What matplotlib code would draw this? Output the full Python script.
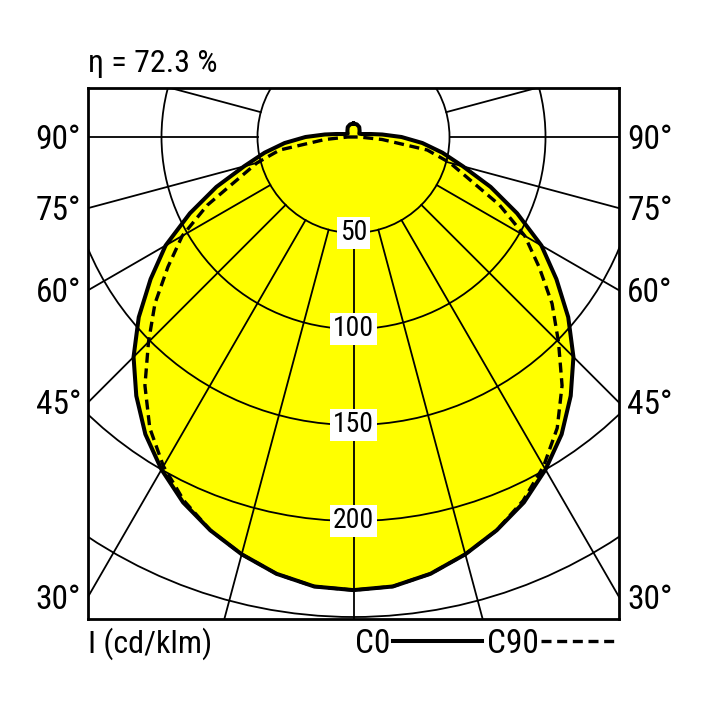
import numpy as np
import matplotlib
matplotlib.use("Agg")
import matplotlib.pyplot as plt
from matplotlib import font_manager
from matplotlib.patches import Circle
from matplotlib.lines import Line2D

# luminous intensity (cd/klm) vs angle from nadir
angles = [0, 5, 10, 15, 20, 25, 30, 35, 40, 45, 50, 55, 60, 65, 70, 75, 80, 85,
          90, 95, 100, 105, 110, 120, 135, 150, 165, 180]
c0 = [236, 235, 231, 225, 218, 210, 200, 189, 176, 162, 146, 129, 113, 94,
      76, 59, 47, 36, 25, 15, 9, 6, 4.5, 3.5, 4.5, 6, 6.8, 7]
c90 = [236, 235, 231, 225, 218, 209, 198, 185, 169, 151, 135, 118, 103, 84,
       64, 52, 39, 15, 3, 0, 0, 0, 0, 0, 0, 0, 0, 0]

rings = [50, 100, 150, 200, 250]
ring_labels = ["50", "100", "150", "200"]
spoke_angles = np.arange(-180, 181, 15)
side_labels = [90, 75, 60, 45, 30]
title = "η = 72.3 %"
unit_label = "I (cd/klm)"
legend_names = ["C0", "C90"]

names = {f.name for f in font_manager.fontManager.ttflist}
stretch = "normal"
for cand in ["Liberation Sans Narrow", "Nimbus Sans Narrow", "Arial Narrow",
             "Roboto Condensed", "Archivo Narrow", "PT Sans Narrow",
             "Encode Sans Condensed", "Barlow Semi Condensed"]:
    if cand in names:
        main_font = cand
        break
else:
    main_font = "DejaVu Sans"
    stretch = "condensed"
plt.rcParams["font.family"] = [main_font, "DejaVu Sans"]
plt.rcParams["font.stretch"] = stretch

W = 708.0
fig = plt.figure(figsize=(7.08, 7.08), dpi=100)
ax = fig.add_axes([88 / W, 89 / W, 531 / W, 531 / W])

px = 96 / 50.0  # pixels per cd/klm
xmax = 265.5 / px
ax.set_xlim(-xmax, xmax)
ax.set_ylim(-482 / px, 49 / px)
ax.set_aspect("equal")
ax.set_xticks([])
ax.set_yticks([])
for s in ax.spines.values():
    s.set_linewidth(2.0)
    s.set_zorder(10)


def to_xy(th_deg, vals):
    th = np.radians(np.asarray(th_deg, dtype=float))
    v = np.asarray(vals, dtype=float)
    full_th = np.concatenate([-th[::-1], th[1:]])
    full_v = np.concatenate([v[::-1], v[1:]])
    return full_v * np.sin(full_th), -full_v * np.cos(full_th)


x0, y0 = to_xy(angles, c0)
x9, y9 = to_xy(angles, c90)

ax.fill(x0, y0, color="#ffff00", zorder=1, lw=0)

# polar grid
for r in rings:
    ax.add_patch(Circle((0, 0), r, fill=False, ec="black", lw=1.3, zorder=2))
for a in spoke_angles:
    t = np.radians(a)
    ax.plot([50 * np.sin(t), 400 * np.sin(t)], [-50 * np.cos(t), -400 * np.cos(t)],
            color="black", lw=1.3, zorder=2)

ax.plot(x9, y9, color="black", lw=2.4, dashes=(3, 1.7), zorder=3)
ax.plot(x0, y0, color="black", lw=2.9, zorder=4, solid_joinstyle="round")

for r, lab in zip(rings, ring_labels):
    ax.text(0, -r, lab, ha="center", va="center", fontsize=20, zorder=6,
            bbox=dict(facecolor="white", edgecolor="none", pad=2))

for a in side_labels:
    y = 0 if a == 90 else -xmax / np.tan(np.radians(a))
    ax.annotate(f"{a}°", xy=(-xmax, y), xytext=(-5, -2), textcoords="offset points",
                ha="right", va="center", fontsize=24, annotation_clip=False)
    ax.annotate(f"{a}°", xy=(xmax, y), xytext=(6, -2), textcoords="offset points",
                ha="left", va="center", fontsize=24, annotation_clip=False)

fig.text(88 / W, 1 - 72 / W, title, ha="left", va="baseline", fontsize=23)
fig.text(88 / W, 1 - 653 / W, unit_label, ha="left", va="baseline", fontsize=23)
fig.text(355 / W, 1 - 653 / W, legend_names[0], ha="left", va="baseline", fontsize=24)
fig.text(487 / W, 1 - 653 / W, legend_names[1], ha="left", va="baseline", fontsize=24)
fig.add_artist(Line2D([393 / W, 482 / W], [1 - 641 / W] * 2, color="black", lw=2.9))
fig.add_artist(Line2D([541 / W, 617 / W], [1 - 641 / W] * 2, color="black", lw=2.4,
                      dashes=(3, 1.7)))

fig.savefig("out.png", dpi=100, facecolor="white")
